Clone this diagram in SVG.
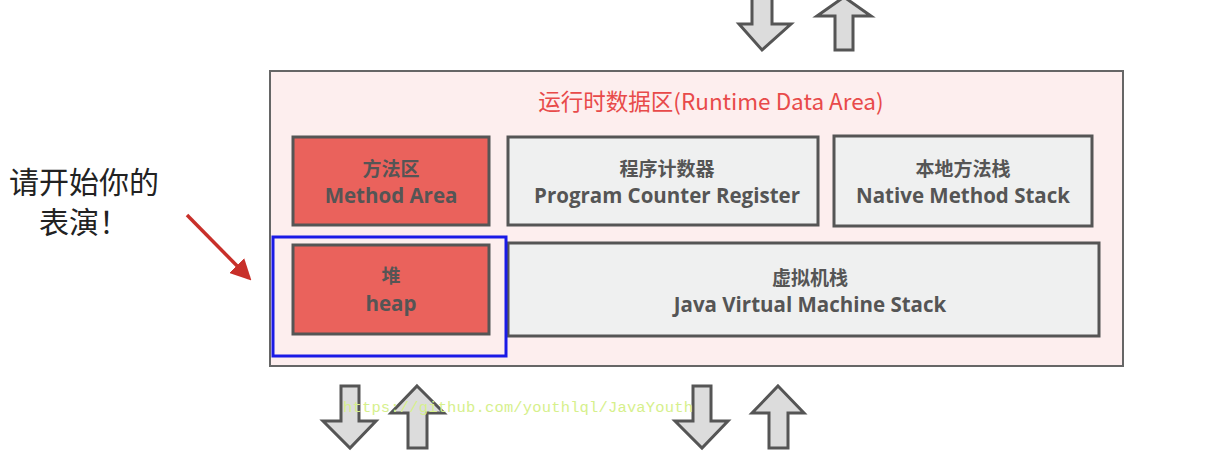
<svg xmlns="http://www.w3.org/2000/svg" width="1212" height="474" viewBox="0 0 1212 474">
<style>
.box{stroke:#555;stroke-width:3}
.red{fill:#ea625c}
.gray{fill:#eff0f0}
.t{font-family:"Open Sans","Noto Sans CJK SC",sans-serif;font-weight:700;font-size:20.5px;fill:#555;text-anchor:middle}
.tz{font-family:"Noto Sans CJK SC",sans-serif;font-weight:600;font-size:19px;fill:#555;text-anchor:middle}
.arr{fill:#dcdcdc;stroke:#555;stroke-width:3;stroke-linejoin:miter}
.cap{font-family:"Noto Sans CJK SC",serif;font-size:30px;fill:#222;text-anchor:middle}
</style>
<defs>
<marker id="ah" markerWidth="6" markerHeight="6" refX="5" refY="3" orient="auto" markerUnits="strokeWidth"><path d="M0,0 L6,3 L0,6 z" fill="#c8302a"/></marker>
</defs>
<rect width="1212" height="474" fill="#fff"/>
<g id="runtime-area">
<rect x="270" y="71" width="853" height="295" fill="#fdeeee" stroke="#666" stroke-width="2"/>
<text x="711" y="110" font-family="'Noto Sans CJK SC',sans-serif" font-size="22.5" fill="#e84a4a" text-anchor="middle">运行时数据区(Runtime Data Area)</text>
</g>
<g id="method-area">
<rect class="box red" x="293" y="137" width="196" height="88"/>
<text class="tz" x="391" y="176">方法区</text>
<text class="t" x="391" y="203">Method Area</text>
</g>
<g id="pc-register">
<rect class="box gray" x="508" y="137" width="310" height="88"/>
<text class="tz" x="667" y="176">程序计数器</text>
<text class="t" x="667" y="203">Program Counter Register</text>
</g>
<g id="native-stack">
<rect class="box gray" x="834" y="136" width="258" height="90"/>
<text class="tz" x="963" y="176">本地方法栈</text>
<text class="t" x="963" y="203">Native Method Stack</text>
</g>
<g id="heap">
<rect class="box red" x="293" y="245" width="196" height="89"/>
<text class="tz" x="391" y="283">堆</text>
<text class="t" x="391" y="311">heap</text>
</g>
<g id="jvm-stack">
<rect class="box gray" x="508" y="243" width="591" height="93"/>
<text class="tz" x="810" y="285">虚拟机栈</text>
<text class="t" x="810" y="312">Java Virtual Machine Stack</text>
</g>
<g id="highlight">
<rect x="273" y="237" width="233" height="119" fill="none" stroke="#1a1ae6" stroke-width="3"/>
</g>
<g id="caption">
<text class="cap" x="84" y="193">请开始你的</text>
<text class="cap" x="84" y="233">表演！</text>
</g>
<g id="connectors">
<line x1="187" y1="215" x2="249" y2="278" stroke="#c8302a" stroke-width="3.5" marker-end="url(#ah)"/>
<path class="arr" d="M752,-3 L772,-3 L772,24 L791,24 L762,50 L739,24 L752,24 Z"/>
<path class="arr" d="M844,-3 L871,16 L853,16 L853,50 L835,50 L835,16 L817,16 Z"/>
<path class="arr" d="M341,386 L359,386 L359,421 L376,421 L350,448 L323,421 L341,421 Z"/>
<path class="arr" d="M417,386 L444,413 L427,413 L427,448 L408,448 L408,413 L391,413 Z"/>
<path class="arr" d="M693,386 L711,386 L711,421 L728,421 L702,448 L675,421 L693,421 Z"/>
<path class="arr" d="M778,386 L804,413 L788,413 L788,448 L769,448 L769,413 L752,413 Z"/>
</g>
<text x="343" y="412" font-family="'Liberation Mono',monospace" font-size="15.5" fill="#d6f08c" textLength="350">https://github.com/youthlql/JavaYouth</text>
</svg>
